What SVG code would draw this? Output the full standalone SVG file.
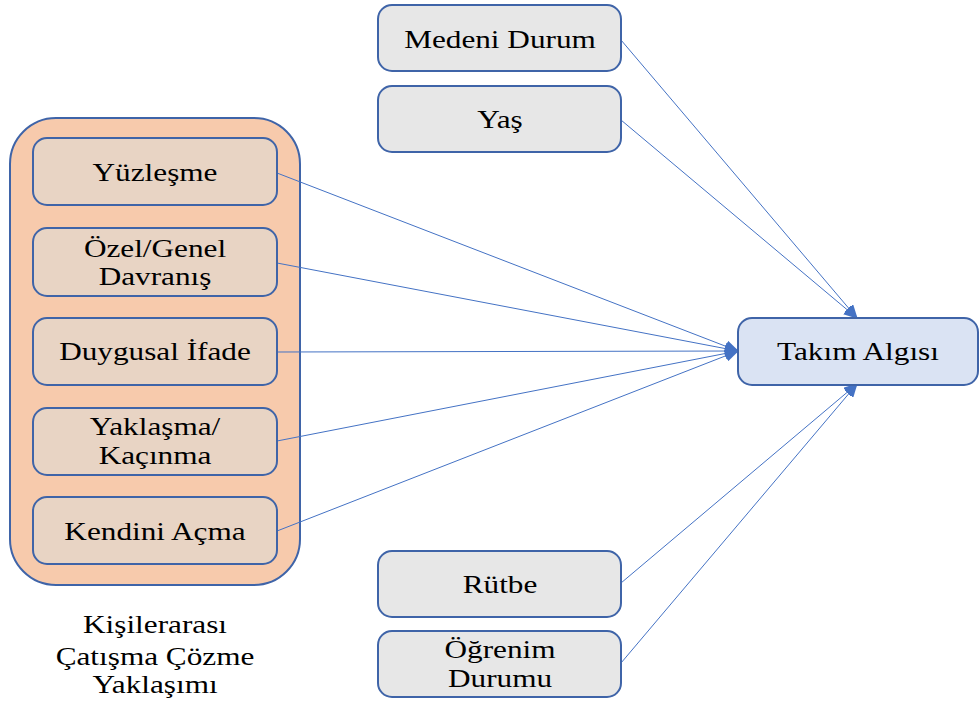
<svg xmlns="http://www.w3.org/2000/svg" width="979" height="702" viewBox="0 0 979 702">
<defs>
<style>
text{font-family:'Liberation Serif','Times New Roman','DejaVu Serif',serif;font-size:25px;fill:#000;text-anchor:middle}
.inner{fill:#E8D4C4;stroke:#3F64A8;stroke-width:2}
.gray{fill:#E7E7E7;stroke:#3F64A8;stroke-width:2}
.blue{fill:#DAE3F3;stroke:#3F64A8;stroke-width:2}
.c{stroke:#4472C4;stroke-width:1;fill:none;marker-end:url(#ah)}
</style>
<marker id="ah" markerUnits="userSpaceOnUse" markerWidth="14" markerHeight="12" refX="13" refY="6" orient="auto">
<path d="M0,0 L14,6 L0,12 Z" fill="#4472C4"/>
</marker>
</defs>
<rect width="979" height="702" fill="#fff"/>
<g id="group-container" font-family="Liberation Serif, serif">
<rect x="10" y="118" width="290" height="467" rx="46" fill="#F7CAAC" stroke="#3F64A8" stroke-width="2"/>
<text transform="translate(155,633) scale(1.25,1)">Kişilerarası</text>
<text transform="translate(155,665) scale(1.25,1)">Çatışma Çözme</text>
<text transform="translate(155,693) scale(1.25,1)">Yaklaşımı</text>
</g>
<g id="connectors">
<line class="c" x1="277" y1="173" x2="738" y2="351"/>
<line class="c" x1="277" y1="263" x2="738" y2="351"/>
<line class="c" x1="277" y1="352" x2="738" y2="351"/>
<line class="c" x1="277" y1="441" x2="738" y2="351"/>
<line class="c" x1="277" y1="531" x2="738" y2="351"/>
<line class="c" x1="621" y1="40" x2="857" y2="318"/>
<line class="c" x1="621" y1="120" x2="857" y2="318"/>
<line class="c" x1="621" y1="583" x2="857" y2="384"/>
<line class="c" x1="621" y1="663" x2="857" y2="384"/>
</g>
<g id="yuzlesme">
<rect class="inner" x="33" y="138" width="244" height="67" rx="14"/>
<text transform="translate(155,181) scale(1.25,1)">Yüzleşme</text>
</g>
<g id="ozel-genel">
<rect class="inner" x="33" y="228" width="244" height="68" rx="14"/>
<text transform="translate(155,257) scale(1.25,1)">Özel/Genel</text>
<text transform="translate(155,285) scale(1.25,1)">Davranış</text>
</g>
<g id="duygusal">
<rect class="inner" x="33" y="318" width="244" height="67" rx="14"/>
<text transform="translate(155,360) scale(1.25,1)">Duygusal İfade</text>
</g>
<g id="yaklasma">
<rect class="inner" x="33" y="408" width="244" height="67" rx="14"/>
<text transform="translate(155,435) scale(1.25,1)">Yaklaşma/</text>
<text transform="translate(155,464) scale(1.25,1)">Kaçınma</text>
</g>
<g id="kendini">
<rect class="inner" x="33" y="497" width="244" height="67" rx="14"/>
<text transform="translate(155,540) scale(1.25,1)">Kendini Açma</text>
</g>
<g id="medeni">
<rect class="gray" x="378" y="5" width="243" height="66" rx="14"/>
<text transform="translate(500,48) scale(1.25,1)">Medeni Durum</text>
</g>
<g id="yas">
<rect class="gray" x="378" y="86" width="243" height="66" rx="14"/>
<text transform="translate(500,128) scale(1.25,1)">Yaş</text>
</g>
<g id="rutbe">
<rect class="gray" x="378" y="551" width="243" height="66" rx="14"/>
<text transform="translate(500,593) scale(1.25,1)">Rütbe</text>
</g>
<g id="ogrenim">
<rect class="gray" x="378" y="631" width="243" height="66" rx="14"/>
<text transform="translate(500,658) scale(1.25,1)">Öğrenim</text>
<text transform="translate(500,687) scale(1.25,1)">Durumu</text>
</g>
<g id="takim">
<rect class="blue" x="738" y="318" width="240" height="67" rx="14"/>
<text transform="translate(858,360) scale(1.25,1)">Takım Algısı</text>
</g>
</svg>
